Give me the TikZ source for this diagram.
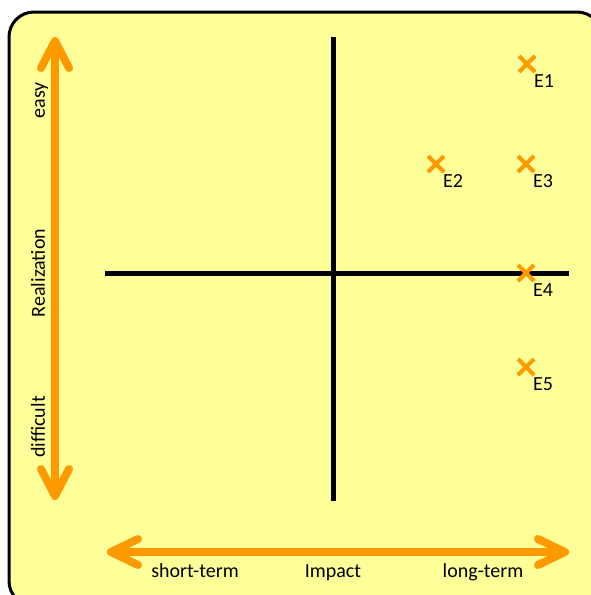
\documentclass[tikz,border=0pt]{standalone}
\usepackage{fontspec}
\usetikzlibrary{calc}
\setmainfont{Carlito}
\definecolor{bgyellow}{HTML}{FFFF99}
\definecolor{axorange}{HTML}{FF9900}
\begin{document}
\begin{tikzpicture}[x=1pt,y=-1pt,
  orangeaxis/.style={draw=axorange,line width=8pt},
  chevron/.style={draw=axorange,line width=8pt,line cap=round,line join=round},
  quadline/.style={draw=black,line width=5pt},
  axtext/.style={font=\fontsize{20}{24}\selectfont,inner sep=0pt,anchor=base},
  elabel/.style={font=\fontsize{20}{24}\selectfont,inner sep=0pt},
  xmark/.pic={\draw[axorange,line width=4pt] (-8,-8) -- (8,8) (-8,8) -- (8,-8);}
]
\useasboundingbox (0,0) rectangle (590,595);
\draw[fill=bgyellow,draw=black,line width=3pt,rounded corners=25pt] (9,12) rectangle (602,606);

% quadrant lines
\coordinate (vtop) at (333,37);
\coordinate (vbot) at (333,501);
\coordinate (hleft) at (105,273);
\coordinate (hright) at (569,273);
\draw[quadline] (vtop) -- (vbot);
\draw[quadline] (hleft) -- (hright);

% vertical orange double arrow
\coordinate (uptip) at (55,41);
\coordinate (downtip) at (55,496);
\draw[orangeaxis] ($(uptip)+(0,4)$) -- ($(downtip)+(0,-4)$);
\draw[chevron] ($(uptip)+(-14,27)$) -- (uptip) -- ($(uptip)+(14,27)$);
\draw[chevron] ($(downtip)+(-14,-27)$) -- (downtip) -- ($(downtip)+(14,-27)$);

% horizontal orange double arrow
\coordinate (lefttip) at (111,552);
\coordinate (righttip) at (565,552);
\draw[orangeaxis] ($(lefttip)+(4,0)$) -- ($(righttip)+(-4,0)$);
\draw[chevron] ($(lefttip)+(27,-13)$) -- (lefttip) -- ($(lefttip)+(27,13)$);
\draw[chevron] ($(righttip)+(-27,-13)$) -- (righttip) -- ($(righttip)+(-27,13)$);

% axis texts
\node[axtext,rotate=90] (easy) at (45,100) {easy};
\node[axtext,rotate=90] (real) at (45,273) {Realization};
\node[axtext,rotate=90] (diff) at (45,427) {difficult};
\node[axtext] (short) at (195,577) {short-term};
\node[axtext] (impact) at (333,577) {Impact};
\node[axtext] (long) at (483,577) {long-term};

% points
\coordinate (e1) at (527,64);
\coordinate (e2) at (436,164);
\coordinate (e3) at (526,164);
\coordinate (e4) at (526,273);
\coordinate (e5) at (526,367);
\foreach \p in {e1,e2,e3,e4,e5} {\pic at (\p) {xmark};}
\node[elabel] (l1) at ($(e1)+(17,17)$) {E1};
\node[elabel] (l2) at ($(e2)+(17,17)$) {E2};
\node[elabel] (l3) at ($(e3)+(17,17)$) {E3};
\node[elabel] (l4) at ($(e4)+(17,17)$) {E4};
\node[elabel] (l5) at ($(e5)+(17,17)$) {E5};
\end{tikzpicture}
\end{document}
